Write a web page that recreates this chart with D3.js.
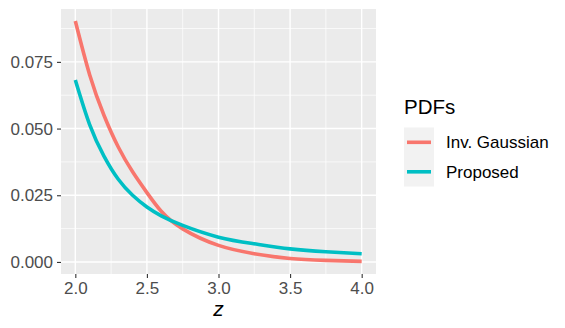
<!DOCTYPE html>
<html>
<head>
<meta charset="utf-8">
<script src="https://cdn.jsdelivr.net/npm/d3@7"></script>
<style>
  body { margin: 0; background: #fff; }
  text { font-family: "Liberation Sans", Arial, sans-serif; }
</style>
</head>
<body>
<svg id="chart" width="565" height="328"></svg>
<script>
// values
const zValues = [2.0, 2.1, 2.2, 2.3, 2.4, 2.5, 2.6, 2.75, 3.0, 3.25, 3.5, 3.75, 4.0];
const invGaussian = [0.0903, 0.0702, 0.0550, 0.0431, 0.0338, 0.0260, 0.0190, 0.0124, 0.0062, 0.0031, 0.0013, 0.0006, 0.0002];
const proposed = [0.0682, 0.0515, 0.0397, 0.0310, 0.0250, 0.0206, 0.0173, 0.0137, 0.0093, 0.0068, 0.0049, 0.0038, 0.0031];
const seriesNames = ["Inv. Gaussian", "Proposed"];
const seriesColors = ["#F8766D", "#00BFC4"];
const xTicks = [2.0, 2.5, 3.0, 3.5, 4.0];
const yTicks = [0.000, 0.025, 0.050, 0.075];
const xMinor = [2.25, 2.75, 3.25, 3.75];
const yMinor = [0.0125, 0.0375, 0.0625, 0.0875];

const svg = d3.select("#chart");
const panel = { left: 61, top: 9, right: 376, bottom: 274 };

const x = d3.scaleLinear().domain([1.9, 4.1]).range([panel.left, panel.right]);
const y = d3.scaleLinear().domain([-0.00452, 0.09482]).range([panel.bottom, panel.top]);

// panel background
svg.append("rect")
    .attr("x", panel.left).attr("y", panel.top)
    .attr("width", panel.right - panel.left)
    .attr("height", panel.bottom - panel.top)
    .attr("fill", "#EBEBEB");

// minor grid
svg.selectAll(".xminor").data(xMinor).enter().append("line")
    .attr("x1", d => x(d)).attr("x2", d => x(d))
    .attr("y1", panel.top).attr("y2", panel.bottom)
    .attr("stroke", "#fff").attr("stroke-width", 0.7);
svg.selectAll(".yminor").data(yMinor).enter().append("line")
    .attr("y1", d => y(d)).attr("y2", d => y(d))
    .attr("x1", panel.left).attr("x2", panel.right)
    .attr("stroke", "#fff").attr("stroke-width", 0.7);

// major grid
svg.selectAll(".xmajor").data(xTicks).enter().append("line")
    .attr("x1", d => x(d)).attr("x2", d => x(d))
    .attr("y1", panel.top).attr("y2", panel.bottom)
    .attr("stroke", "#fff").attr("stroke-width", 1.4);
svg.selectAll(".ymajor").data(yTicks).enter().append("line")
    .attr("y1", d => y(d)).attr("y2", d => y(d))
    .attr("x1", panel.left).attr("x2", panel.right)
    .attr("stroke", "#fff").attr("stroke-width", 1.4);

// axes
const xAxis = svg.append("g")
    .attr("transform", `translate(0,${panel.bottom})`)
    .call(d3.axisBottom(x).tickValues(xTicks).tickFormat(d3.format(".1f")).tickSize(4).tickPadding(4));
const yAxis = svg.append("g")
    .attr("transform", `translate(${panel.left},0)`)
    .call(d3.axisLeft(y).tickValues(yTicks).tickFormat(d3.format(".3f")).tickSize(4).tickPadding(4));

[xAxis, yAxis].forEach(g => {
    g.select(".domain").remove();
    g.selectAll(".tick line").attr("stroke", "#333").attr("stroke-width", 1.1);
    g.selectAll(".tick text")
        .attr("fill", "#4D4D4D")
        .style("font-size", "17px")
        .style("font-family", "'Liberation Sans', Arial, sans-serif");
});

// axis title
svg.append("text")
    .attr("x", (panel.left + panel.right) / 2)
    .attr("y", 316)
    .attr("text-anchor", "middle")
    .style("font-size", "21px")
    .style("font-style", "italic")
    .attr("fill", "#000")
    .text("z");

// lines
const line = d3.line()
    .x((d, i) => x(zValues[i]))
    .y(d => y(d))
    .curve(d3.curveNatural);

svg.selectAll(".series").data([invGaussian, proposed]).enter().append("path")
    .attr("d", d => line(d))
    .attr("fill", "none")
    .attr("stroke", (d, i) => seriesColors[i])
    .attr("stroke-width", 3.6);

// legend
const legend = svg.append("g");
legend.append("text")
    .attr("x", 404).attr("y", 114)
    .style("font-size", "20.5px")
    .attr("fill", "#000")
    .text("PDFs");

const keys = legend.selectAll(".key").data(seriesNames).enter().append("g")
    .attr("transform", (d, i) => `translate(404,${127.5 + i * 29.5})`);
keys.append("rect")
    .attr("width", 30).attr("height", 29.5)
    .attr("fill", "#F2F2F2");
keys.append("line")
    .attr("x1", 3).attr("x2", 27)
    .attr("y1", 14.8).attr("y2", 14.8)
    .attr("stroke", (d, i) => seriesColors[i])
    .attr("stroke-width", 3.6);
keys.append("text")
    .attr("x", 42).attr("y", 20.8)
    .style("font-size", "17px")
    .attr("fill", "#000")
    .text(d => d);
</script>
</body>
</html>
